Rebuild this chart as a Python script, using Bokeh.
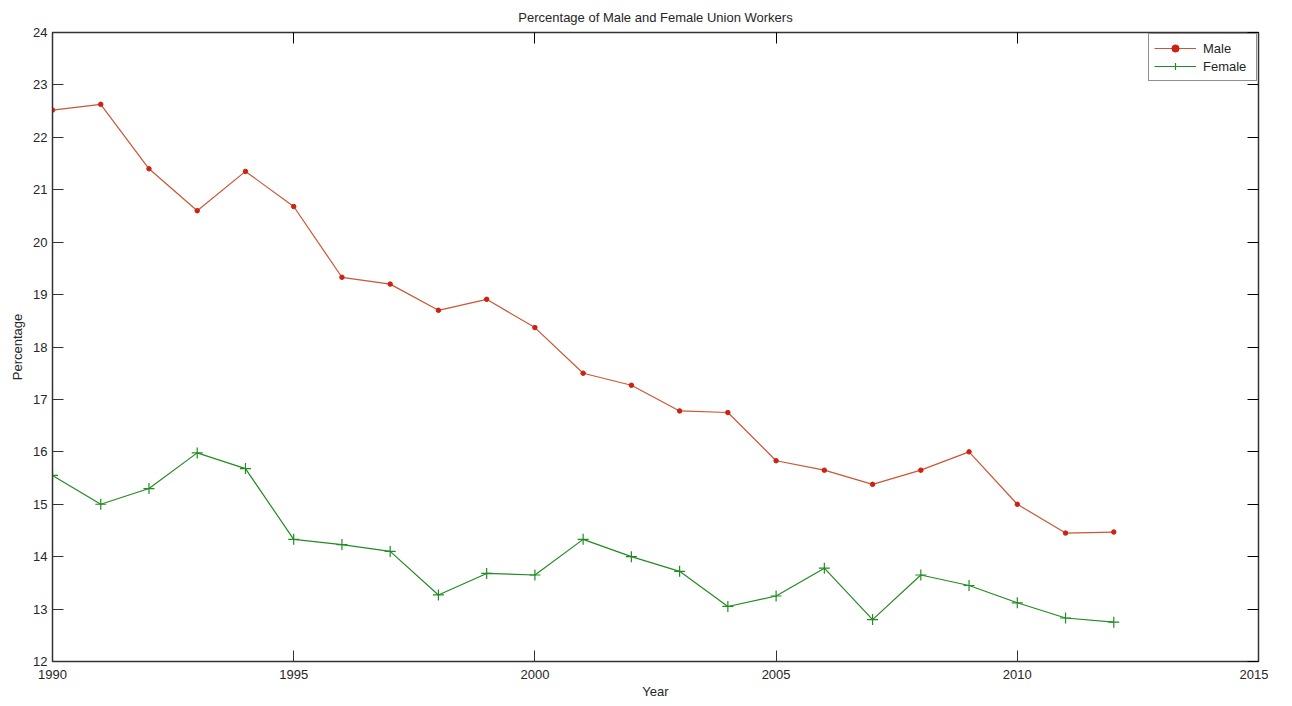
from bokeh.plotting import figure
from bokeh.models import (LinearAxis, Range1d, FixedTicker, Legend, LegendItem,
                          CustomJSTickFormatter)
from bokeh.embed import file_html
from bokeh.resources import INLINE

years = list(range(1990, 2013))
male = [22.52, 22.63, 21.40, 20.60, 21.35, 20.68, 19.33, 19.20, 18.70, 18.91,
        18.37, 17.50, 17.27, 16.78, 16.75, 15.83, 15.65, 15.38, 15.65, 16.00,
        15.00, 14.45, 14.47]
female = [15.55, 15.00, 15.30, 15.98, 15.68, 14.33, 14.23, 14.10, 13.27, 13.68,
          13.65, 14.33, 14.00, 13.72, 13.05, 13.25, 13.78, 12.80, 13.65, 13.45,
          13.12, 12.83, 12.75]
x_ticks = [1990, 1995, 2000, 2005, 2010, 2015]
y_ticks = list(range(12, 25))

FONT = "Liberation Sans"
TXT = "#262626"

p = figure(frame_width=1206, frame_height=629, output_backend="svg",
           toolbar_location=None, x_range=Range1d(1990, 2015),
           y_range=Range1d(12, 24), min_border_left=52, min_border_right=10,
           min_border_top=32, min_border_bottom=36,
           title="Percentage of Male and Female Union Workers")
p.title.align = "center"
p.title.text_font = FONT
p.title.text_font_style = "normal"
p.title.text_font_size = "13px"
p.title.text_color = TXT
p.title.standoff = 15
p.grid.visible = False
p.outline_line_color = "#333333"
p.outline_line_width = 1.5
p.background_fill_color = "white"
p.border_fill_color = "white"

p.xaxis.ticker = FixedTicker(ticks=x_ticks)
p.yaxis.ticker = FixedTicker(ticks=y_ticks)
p.xaxis.axis_label = "Year"
p.yaxis.axis_label = "Percentage"

for ax in p.xaxis + p.yaxis:
    ax.major_tick_in = 11
    ax.major_tick_out = 0
    ax.minor_tick_in = 0
    ax.minor_tick_out = 0
    ax.axis_line_color = "#333333"
    ax.major_tick_line_color = "#333333"
    ax.major_label_text_font = FONT
    ax.major_label_text_font_size = "13px"
    ax.major_label_text_color = TXT
    ax.axis_label_text_font = FONT
    ax.axis_label_text_font_size = "13px"
    ax.axis_label_text_font_style = "normal"
    ax.axis_label_text_color = TXT
p.xaxis.major_label_standoff = 8
p.xaxis.axis_label_standoff = 2
p.yaxis.major_label_standoff = 5
p.yaxis.axis_label_standoff = 5

blank = CustomJSTickFormatter(code="return ''")
rax = LinearAxis(ticker=FixedTicker(ticks=y_ticks), formatter=blank,
                 major_tick_in=11, major_tick_out=0, minor_tick_out=0,
                 minor_tick_in=0, major_label_standoff=0, axis_line_color="#333333")
tax = LinearAxis(ticker=FixedTicker(ticks=x_ticks), formatter=blank,
                 major_tick_in=11, major_tick_out=0, minor_tick_out=0,
                 minor_tick_in=0, major_label_standoff=0, axis_line_color="#333333")
p.add_layout(rax, "right")
p.add_layout(tax, "above")

MCOL = "#cc5533"
MDOT = "#cc2211"
FCOL = "#228B22"

ml = p.line(years, male, line_color=MCOL, line_width=1.2)
mm = p.scatter(years, male, marker="circle", size=4.5, fill_color=MDOT,
               line_color=MDOT)
fl = p.line(years, female, line_color=FCOL, line_width=1.2)
fm = p.scatter(years, female, marker="cross", size=11, line_color=FCOL,
               line_width=1.2)

legend = Legend(items=[LegendItem(label="Male", renderers=[ml, mm]),
                       LegendItem(label="Female", renderers=[fl, fm])],
                location="top_right", glyph_width=42, glyph_height=18,
                label_text_font=FONT, label_text_font_size="13px",
                label_text_color=TXT, border_line_color="#222222",
                border_line_width=1, padding=5, spacing=0, margin=1,
                label_standoff=7, label_height=18, label_width=48)
p.add_layout(legend, "center")

open("out.html", "w").write(file_html(p, INLINE))
